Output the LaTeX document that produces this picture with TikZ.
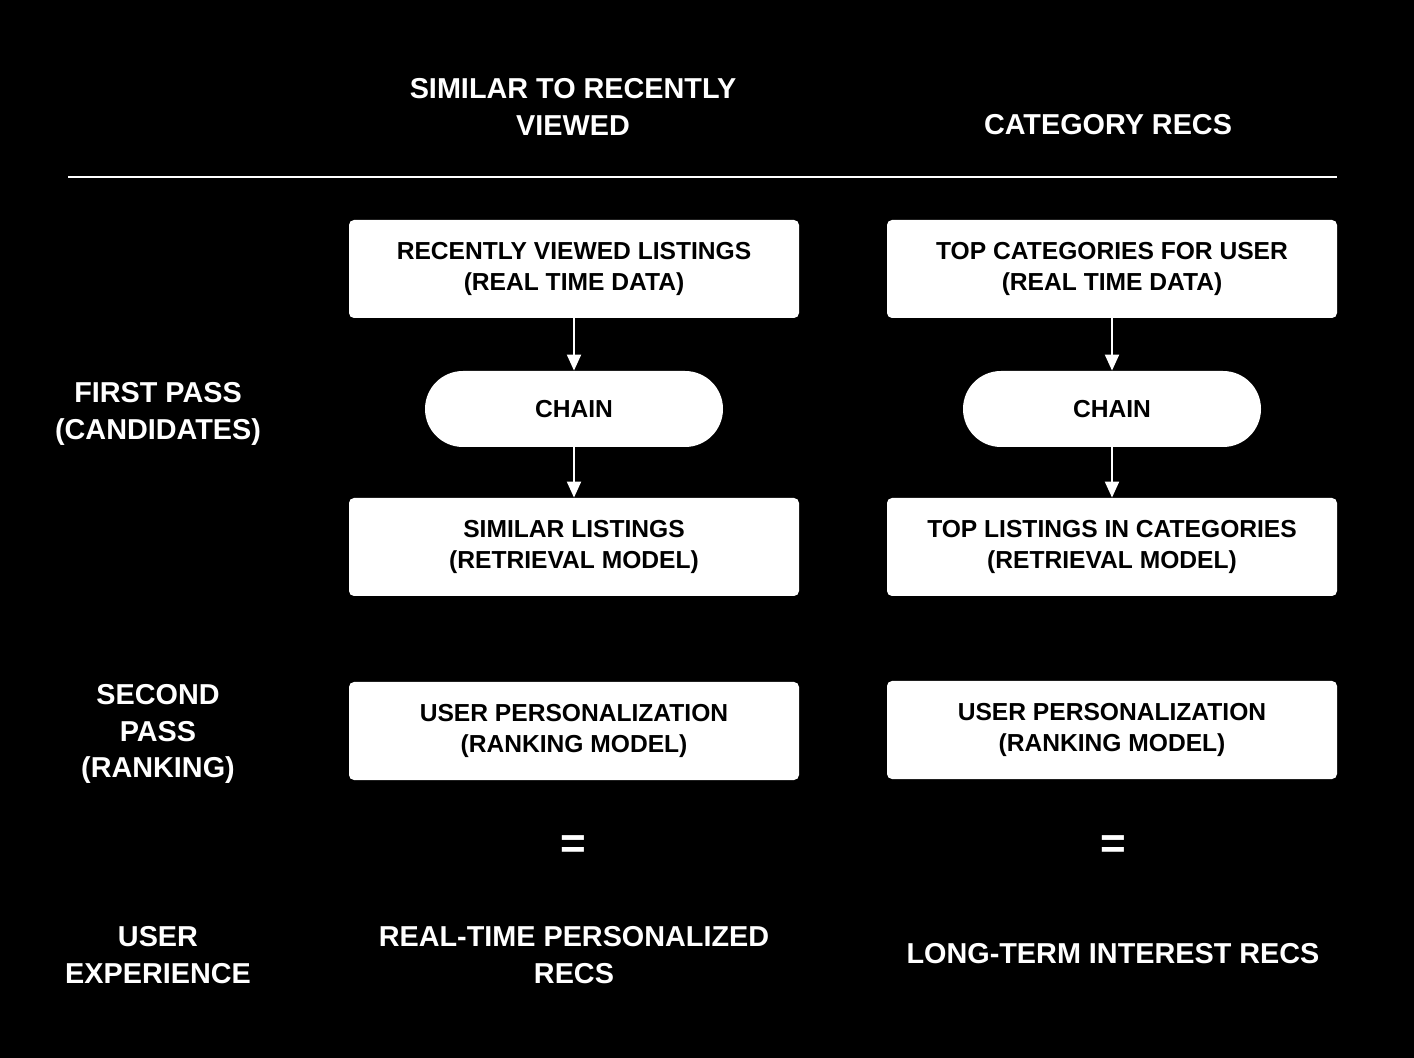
\documentclass[tikz,border=0pt]{standalone}
\usepackage{fontspec}
\setmainfont{Liberation Sans}
\usetikzlibrary{arrows.meta}
\begin{document}
\begin{tikzpicture}
		[x=0.5pt,y=-0.5pt,
		block/.style ={rectangle, fill=white, text=black, font=\bfseries\fontsize{12.3}{15.5}\selectfont, minimum width=225pt, minimum height=49pt, inner sep=0pt, align=center, rounded corners=2.5pt},
		pill/.style ={block, minimum width=149pt, minimum height=38pt, rounded corners=19pt},
		heading/.style ={text=white, font=\bfseries\fontsize{14.4}{18.3}\selectfont, align=center},
		equal/.style ={heading, font=\bfseries\fontsize{22}{22}\selectfont},
		line/.style ={draw=white, fill=white, line width=1pt, -{Triangle[width=7pt,length=8pt,fill=white]}},
		]
		\fill[black] (0,0) rectangle (1414,1058);
		\useasboundingbox (0,0) rectangle (1414,1058);

		\draw (573,107) node[heading] (H1) {SIMILAR TO RECENTLY\\VIEWED};
		\draw (1108,125) node[heading] (H2) {CATEGORY RECS};
		\draw[white, line width=1pt] (68,177) -- (1337,177);

		\draw (158,414) node[heading] (L1) {FIRST PASS\\(CANDIDATES)};
		\draw (158,734) node[heading] (L2) {SECOND\\PASS\\(RANKING)};
		\draw (158,955) node[heading] (L3) {USER\\EXPERIENCE};

		\draw (574,269) node[block] (RV) {RECENTLY VIEWED LISTINGS\\(REAL TIME DATA)};
		\draw (574,409) node[pill] (C1) {CHAIN};
		\draw (574,547) node[block] (SL) {SIMILAR LISTINGS\\(RETRIEVAL MODEL)};
		\draw (574,731) node[block] (UP1) {USER PERSONALIZATION\\(RANKING MODEL)};
		\draw (573,847) node[equal] (EQ1) {=};
		\draw (574,955) node[heading] (R1) {REAL-TIME PERSONALIZED\\RECS};

		\draw (1112,269) node[block] (TC) {TOP CATEGORIES FOR USER\\(REAL TIME DATA)};
		\draw (1112,409) node[pill] (C2) {CHAIN};
		\draw (1112,547) node[block] (TL) {TOP LISTINGS IN CATEGORIES\\(RETRIEVAL MODEL)};
		\draw (1112,730) node[block] (UP2) {USER PERSONALIZATION\\(RANKING MODEL)};
		\draw (1113,847) node[equal] (EQ2) {=};
		\draw (1113,954) node[heading] (R2) {LONG-TERM INTEREST RECS};

		\path[line]
		(RV) edge (C1)
		(C1) edge (SL)
		(TC) edge (C2)
		(C2) edge (TL);

	\end{tikzpicture}
\end{document}
